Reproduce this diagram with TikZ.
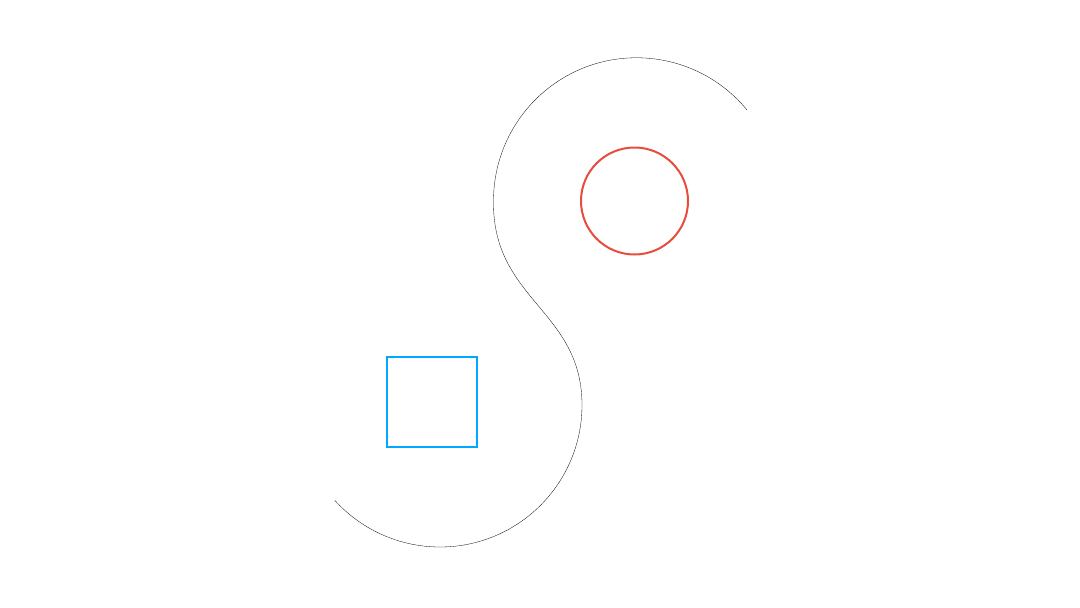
\documentclass[tikz,border=0pt]{standalone}
\usepackage{xcolor}
\usepackage{tikz}
\usetikzlibrary{positioning}
\definecolor{ringred}{HTML}{E74C3C}
\definecolor{boxblue}{HTML}{00A8FF}

\begin{document}
\begin{tikzpicture}[x=1pt, y=-1pt, every node/.style={inner sep=0pt, outer sep=0pt}]
\useasboundingbox (0,0) rectangle (1080,608);
\node[draw=ringred, line width=2pt, circle, minimum size=107pt] (ring) at (634.5,201) {};
\node[draw=boxblue, line width=2pt, minimum size=90pt] (box) at (431.5,401.5) {};

\draw[line width=0.3pt] (747,110) arc[start angle=-39.4, end angle=-180, radius=143]
  .. controls (492,300) and (582,310) .. (582,405)
  arc[start angle=0, end angle=137.8, radius=142];
\end{tikzpicture}
\end{document}
